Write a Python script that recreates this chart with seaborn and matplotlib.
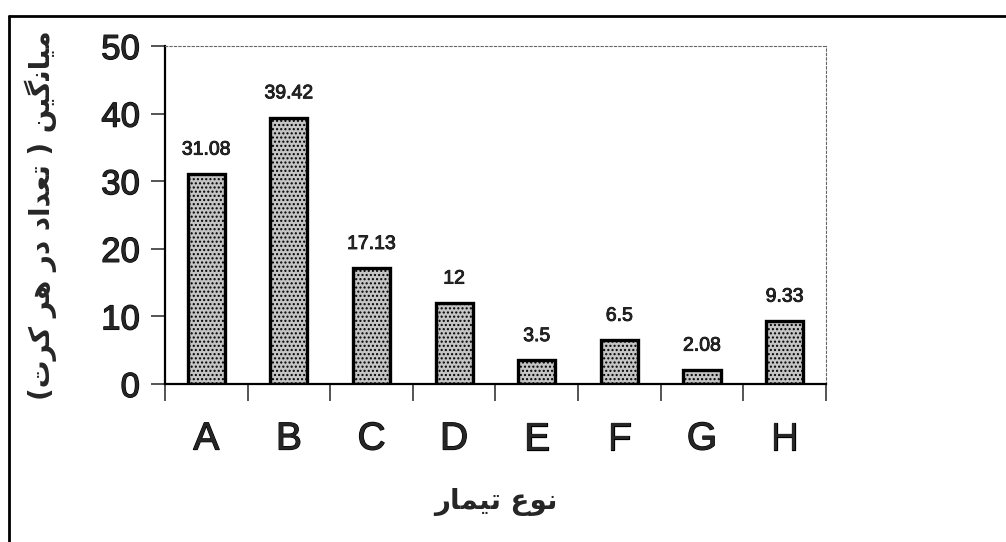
"""
plot.py
Bar chart of mean counts per plot for each treatment (A-H).
Output: out.png
"""

import matplotlib
matplotlib.use("Agg")
import matplotlib.pyplot as plt
import matplotlib.patheffects as pe
from matplotlib.lines import Line2D
import pandas as pd
import seaborn as sns

# DATA

treatments = ["A", "B", "C", "D", "E", "F", "G", "H"]
means = [31.08, 39.42, 17.13, 12, 3.5, 6.5, 2.08, 9.33]
value_labels = ["31.08", "39.42", "17.13", "12", "3.5", "6.5", "2.08", "9.33"]
y_ticks = [0, 10, 20, 30, 40, 50]

# Persian labels, pre-shaped (presentation forms, visual order) since
# matplotlib does no Arabic shaping / bidi
x_label = "\uFEAD\uFE8E\uFEE4\uFEF4\uFE97 \uFEC9\uFEEE\uFEE7"          # نوع تیمار
y_label = ("(\uFE95\uFEAE\uFB90 \uFEAE\uFEEB \uFEAD\uFEA9 "
           "\uFEA9\uFE8D\uFEAA\uFECC\uFE97 ) "
           "\uFEE6\uFEF4\uFB94\uFEE7\uFE8E\uFEF4\uFEE3")                 # میانگین ( تعداد در هر کرت)

# STYLE

sns.set_style("ticks")
plt.rcParams["font.family"] = ["Liberation Sans", "DejaVu Sans"]
plt.rcParams["hatch.color"] = "#1a1a1a"
plt.rcParams["hatch.linewidth"] = 1.0

# trazo un poco mas grueso, como en el escaneo original
thick = [pe.withStroke(linewidth=0.9, foreground="black")]

df = pd.DataFrame({"treatment": treatments, "mean": means})

fig = plt.figure(figsize=(10.06, 5.42), dpi=100)
ax = fig.add_axes([0.164, 0.2915, 0.657, 0.6235])

sns.barplot(
    data=df, x="treatment", y="mean", order=treatments,
    color="#c4c4c4", width=0.45, edgecolor="black", linewidth=2.4,
    saturation=1, ax=ax
)
for p in ax.patches:
    p.set_hatch("....")

for p, txt in zip(ax.patches, value_labels):
    ax.annotate(
        txt, (p.get_x() + p.get_width() / 2, p.get_height()),
        xytext=(0, 11), textcoords="offset points",
        ha="center", va="bottom", fontsize=14,
        path_effects=[pe.withStroke(linewidth=0.6, foreground="black")]
    )

# ejes
ax.set_xlim(-0.5, len(treatments) - 0.5)
ax.set_ylim(0, 50)
ax.set_yticks(y_ticks)
ax.set_xticks([i - 0.5 for i in range(len(treatments) + 1)], minor=True)
ax.tick_params(axis="x", which="major", length=0, labelsize=28, pad=27)
ax.tick_params(axis="x", which="minor", length=12, width=1.1, direction="out")
ax.tick_params(axis="y", length=10, width=1.1, labelsize=25, pad=8)
for lbl in ax.get_xticklabels() + ax.get_yticklabels():
    lbl.set_path_effects(thick)

for s in ["left", "bottom"]:
    ax.spines[s].set_linewidth(1.6)
    ax.spines[s].set_color("black")
for s in ["top", "right"]:
    ax.spines[s].set_visible(True)
    ax.spines[s].set_linewidth(0.8)
    ax.spines[s].set_linestyle((0, (2, 2)))
    ax.spines[s].set_color("#666666")

ax.set_xlabel(x_label, fontsize=20, fontweight="bold",
              family=["DejaVu Sans"], labelpad=22)
ax.set_ylabel(y_label, fontsize=20, fontweight="bold",
              family=["DejaVu Sans"], labelpad=32)

# marco exterior (solo arriba e izquierda)
fig.add_artist(Line2D([0.009, 1.0], [0.971, 0.971], color="black", lw=2))
fig.add_artist(Line2D([0.009, 0.009], [0.0, 0.971], color="black", lw=2))

fig.savefig("out.png", dpi=100)
